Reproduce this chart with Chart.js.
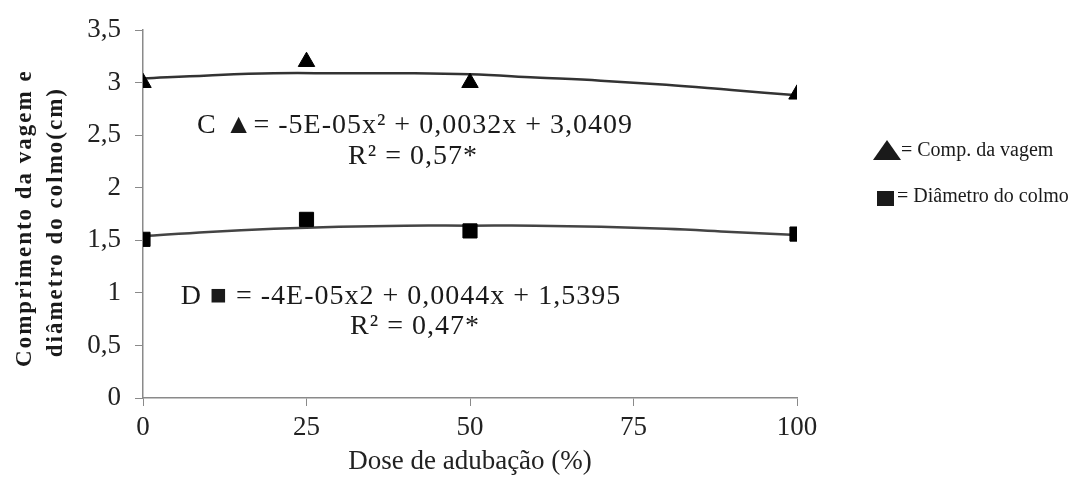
<!DOCTYPE html>
<html>
<head>
<meta charset="utf-8">
<script src="https://cdn.jsdelivr.net/npm/chart.js@4/dist/chart.umd.min.js"></script>
<style>
  body { margin: 0; background: #fff; }
  #wrap { width: 1075px; height: 482px; }
</style>
</head>
<body>
<div id="wrap"><canvas id="c" width="1075" height="482"></canvas></div>
<script>
// observed points
const doses = [0, 25, 50, 100];
const compVagem = [3.0, 3.2, 3.0, 2.89];
const diamColmo = [1.51, 1.70, 1.59, 1.56];
// fitted curves
const curveX = [0, 10, 20, 30, 40, 50, 60, 70, 80, 90, 100];
const curveC = [3.04, 3.07, 3.09, 3.09, 3.09, 3.08, 3.05, 3.02, 2.98, 2.93, 2.88];
const curveD = [1.54, 1.58, 1.61, 1.63, 1.64, 1.64, 1.64, 1.63, 1.61, 1.58, 1.55];
const xTicks = [0, 25, 50, 75, 100];
const yLabel = ["Comprimento da vagem e", "diâmetro do colmo(cm)"];
const xLabel = "Dose de adubação (%)";
const eqC = ["C ▲= -5E-05x² + 0,0032x + 3,0409", "R² = 0,57*"];
const eqD = ["D ■ = -4E-05x2 + 0,0044x + 1,5395", "R² = 0,47*"];
const legendTxt = ["= Comp. da vagem", "= Diâmetro do colmo"];

const SERIF = "'Liberation Serif', 'DejaVu Serif', serif";
Chart.defaults.font.family = SERIF;
Chart.defaults.color = "#222";

function pts(xs, ys) { return xs.map((x, i) => ({x: x, y: ys[i]})); }

// draws the y title, the equations and the little legend on the right
const notes = {
    id: "notes",
    afterDraw(chart) {
        const ctx = chart.ctx;
        const ys = chart.scales.y;
        ctx.save();
        ctx.fillStyle = "#1a1a1a";
        ctx.textBaseline = "middle";
        ctx.textAlign = "center";
        // y title, rotated, spread out a bit like the original
        const midY = (ys.top + ys.bottom) / 2;
        ctx.save();
        ctx.translate(25, midY + 4);
        ctx.rotate(-Math.PI / 2);
        ctx.font = "bold 23px " + SERIF;
        ctx.letterSpacing = "2px";
        ctx.fillText(yLabel[0], 0, 0);
        ctx.fillText(yLabel[1], -4, 31);
        ctx.restore();
        // equations
        ctx.font = "28px " + SERIF;
        ctx.letterSpacing = "1px";
        ctx.fillText(eqC[0], 415, 126);
        ctx.fillText(eqC[1], 413, 157);
        ctx.fillText(eqD[0], 401, 297);
        ctx.fillText(eqD[1], 415, 327);
        // legend
        ctx.letterSpacing = "0px";
        ctx.textAlign = "left";
        ctx.font = "20px " + SERIF;
        ctx.beginPath();
        ctx.moveTo(873, 160); ctx.lineTo(887, 140); ctx.lineTo(901, 160); ctx.closePath();
        ctx.fill();
        ctx.fillText(legendTxt[0], 901, 151);
        ctx.fillRect(877, 191, 17, 15);
        ctx.fillText(legendTxt[1], 897, 197);
        ctx.restore();
    }
};

new Chart(document.getElementById("c"), {
    type: "scatter",
    data: {
        datasets: [
            {label: "curvaC", data: pts(curveX, curveC), showLine: true, tension: 0.4, borderColor: "#333", borderWidth: 2.5, pointRadius: 0, order: 2},
            {label: "curvaD", data: pts(curveX, curveD), showLine: true, tension: 0.4, borderColor: "#444", borderWidth: 2.5, pointRadius: 0, order: 2},
            {label: "Comp. da vagem", data: pts(doses, compVagem), pointStyle: "triangle", pointRadius: 9.5, backgroundColor: "#000", borderColor: "#000", order: 1},
            {label: "Diâmetro do colmo", data: pts(doses, diamColmo), pointStyle: "rect", pointRadius: 10, backgroundColor: "#000", borderColor: "#000", order: 1}
        ]
    },
    options: {
        responsive: false,
        animation: false,
        layout: {padding: {left: 0, right: 278, top: 25, bottom: 0}},
        plugins: {legend: {display: false}, tooltip: {enabled: false}},
        scales: {
            x: {
                type: "linear", min: 0, max: 100,
                afterBuildTicks: (s) => { s.ticks = xTicks.map(v => ({value: v})); },
                afterFit: (s) => { s.height = 84; },
                grid: {drawOnChartArea: false, drawTicks: true, tickLength: 8, color: "#8a8a8a"},
                border: {color: "#8a8a8a", width: 1.5},
                ticks: {font: {size: 27}, color: "#222", padding: 6},
                title: {display: true, text: xLabel, font: {size: 27}, color: "#222", padding: {top: 4}}
            },
            y: {
                min: 0, max: 3.5,
                ticks: {stepSize: 0.5, font: {size: 27}, color: "#222", padding: 14,
                        callback: (v) => String(v).replace(".", ",")},
                afterFit: (s) => { s.width = 143; },
                grid: {drawOnChartArea: false, drawTicks: true, tickLength: 8, color: "#8a8a8a"},
                border: {color: "#8a8a8a", width: 1.5}
            }
        }
    },
    plugins: [notes]
});
</script>
</body>
</html>
